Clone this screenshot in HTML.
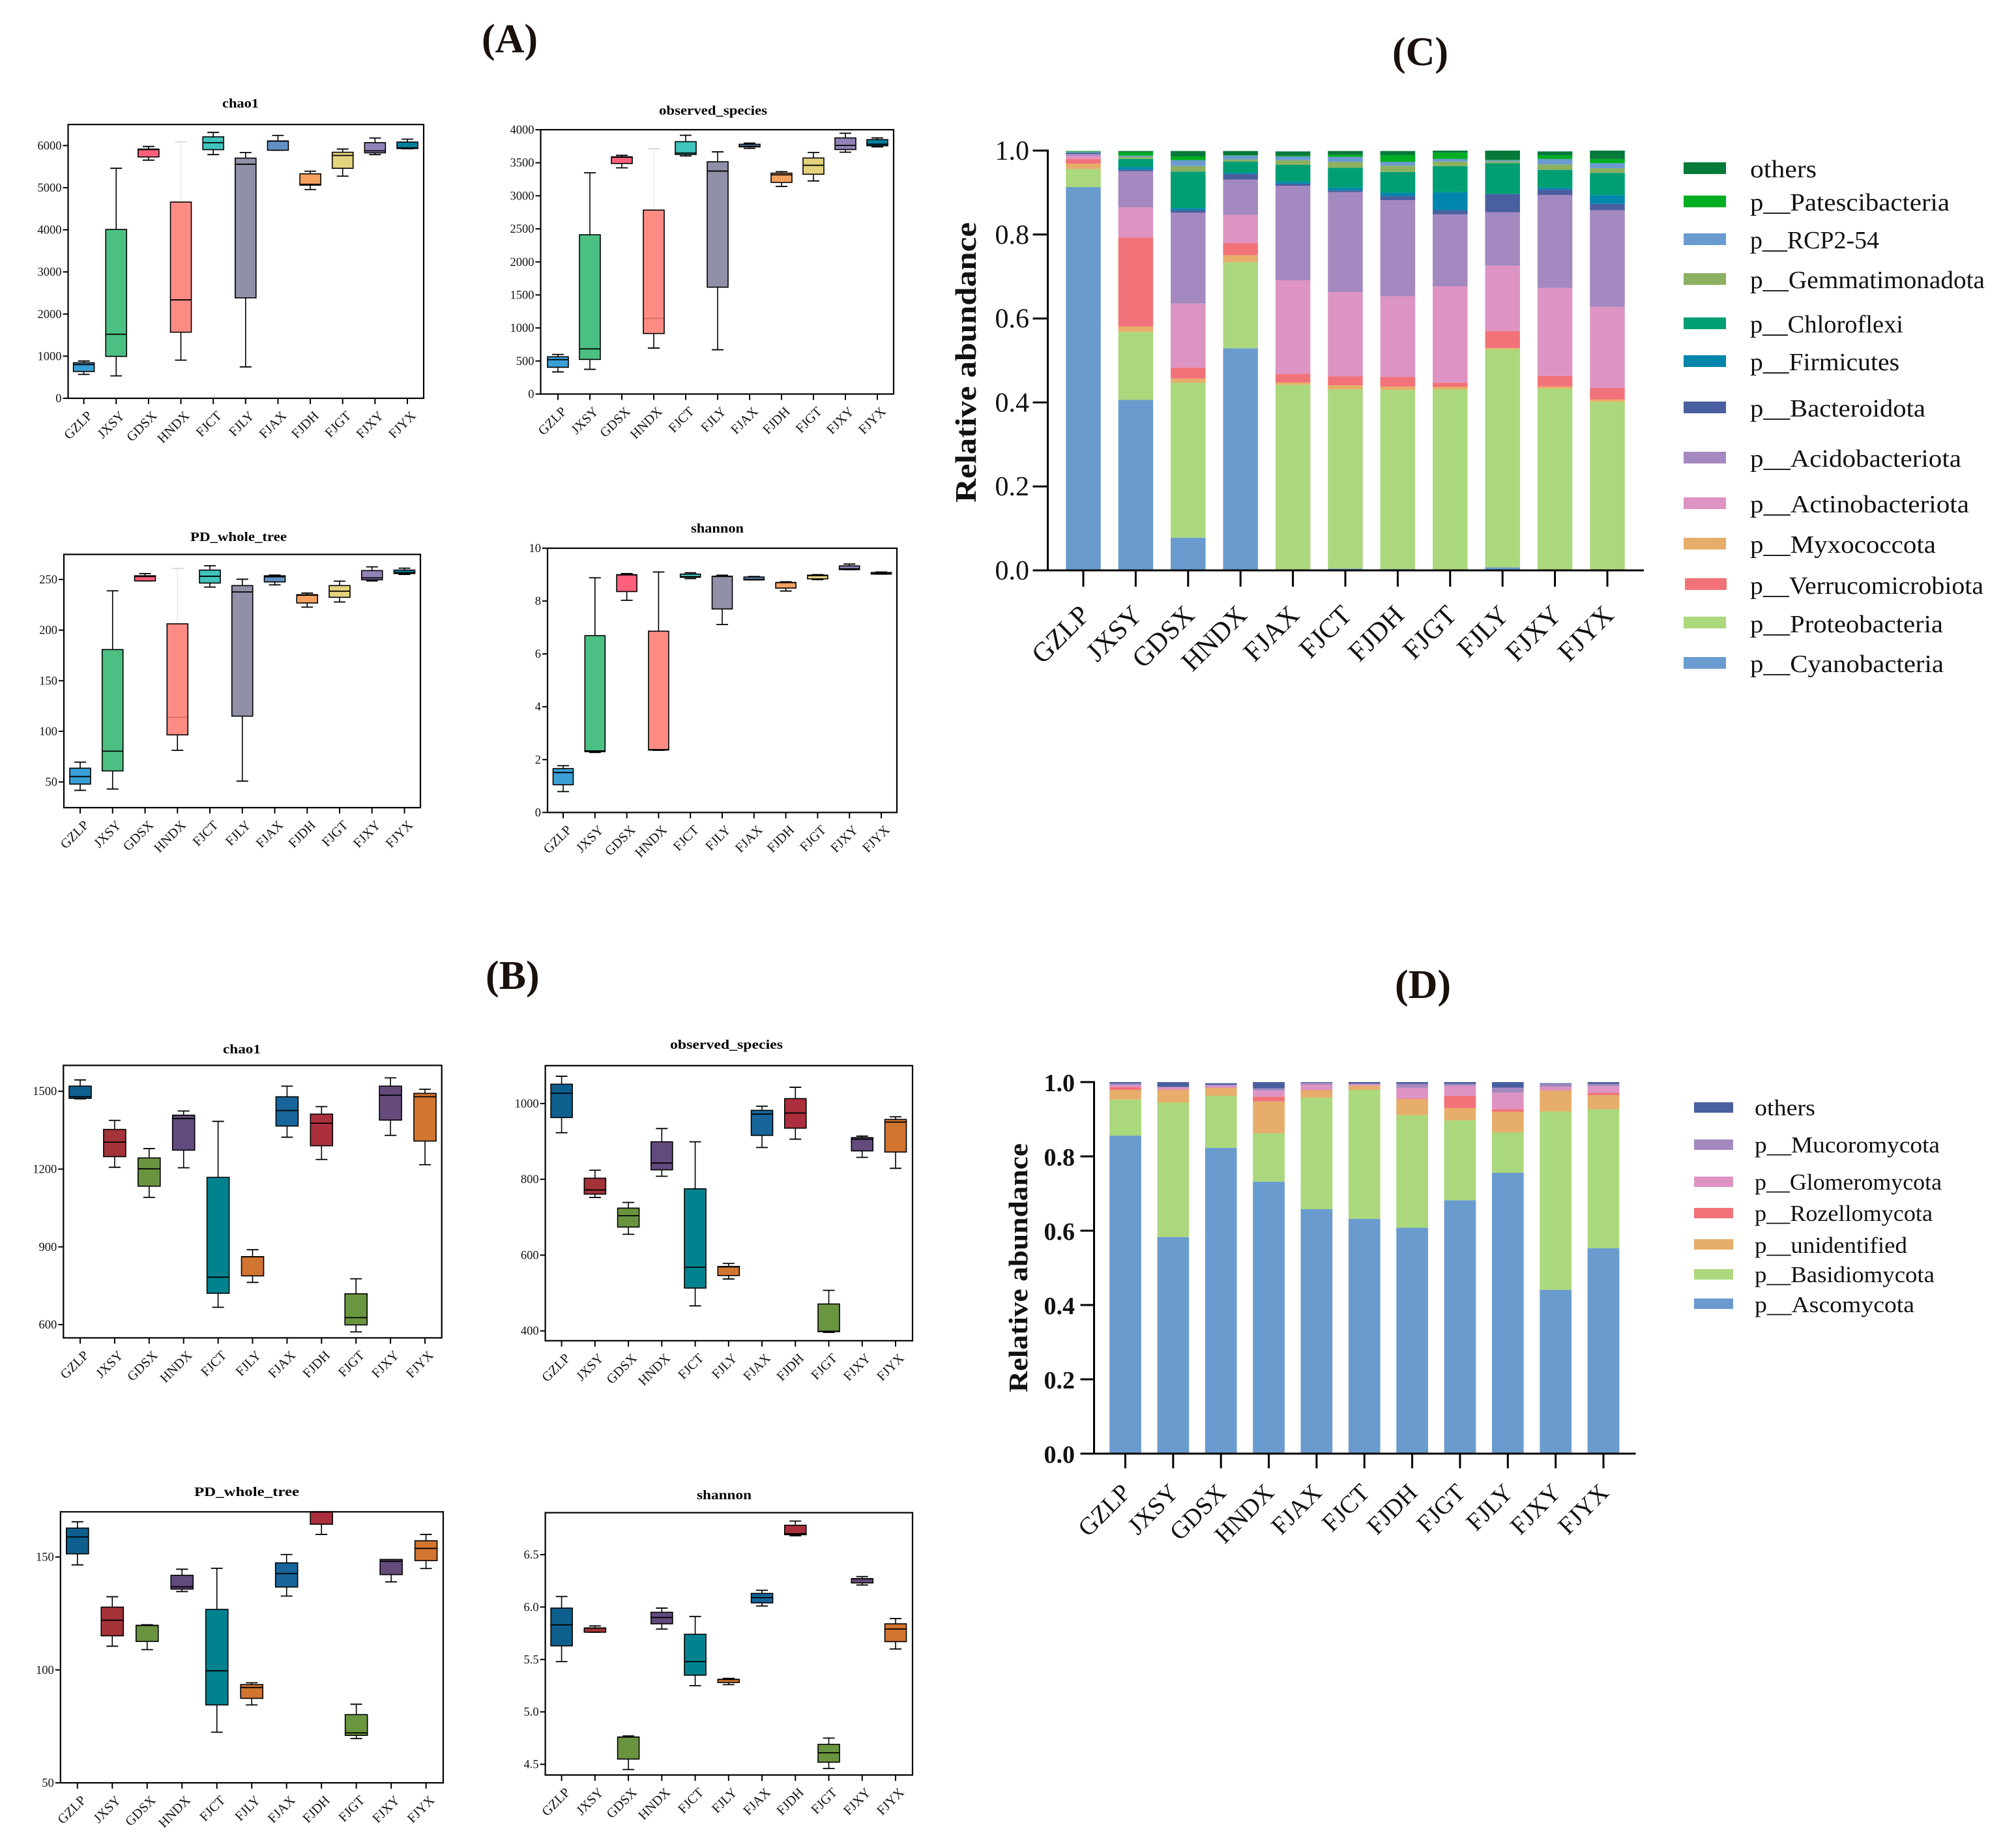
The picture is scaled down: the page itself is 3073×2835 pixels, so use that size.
<!DOCTYPE html>
<html lang="en">
<head>
<meta charset="utf-8">
<title>Alpha diversity and relative abundance</title>
<style>
html,body{margin:0;padding:0;background:#fff;}
svg{display:block;font-family:"Liberation Serif",serif;}
</style>
</head>
<body>
<svg id="root" xmlns="http://www.w3.org/2000/svg" width="3073" height="2835" viewBox="0 0 3073 2835">
  <rect x="0" y="0" width="3073" height="2835" fill="#ffffff"/>

  <g font-weight="bold" font-size="62" fill="#1a100c">
    <text x="739" y="80">(A)</text>
    <text x="745" y="1517">(B)</text>
    <text x="2136" y="100">(C)</text>
    <text x="2140" y="1531">(D)</text>
  </g>

  <g font-weight="bold" font-size="20" fill="#000">
    <text x="341" y="165" textLength="56" lengthAdjust="spacingAndGlyphs">chao1</text>
    <text x="1011" y="176" textLength="166" lengthAdjust="spacingAndGlyphs">observed_species</text>
    <text x="292" y="830" textLength="148" lengthAdjust="spacingAndGlyphs">PD_whole_tree</text>
    <text x="1060" y="817" textLength="81" lengthAdjust="spacingAndGlyphs">shannon</text>
    <text x="342" y="1616" textLength="58" lengthAdjust="spacingAndGlyphs">chao1</text>
    <text x="1028" y="1609" textLength="173" lengthAdjust="spacingAndGlyphs">observed_species</text>
    <text x="298" y="2295" textLength="161" lengthAdjust="spacingAndGlyphs">PD_whole_tree</text>
    <text x="1069" y="2300" textLength="84" lengthAdjust="spacingAndGlyphs">shannon</text>
  </g>

  <text transform="translate(1497,556) rotate(-90)" text-anchor="middle" font-weight="bold" font-size="46" textLength="430" lengthAdjust="spacingAndGlyphs" fill="#111">Relative abundance</text>
  <text transform="translate(1576,1945) rotate(-90)" text-anchor="middle" font-weight="bold" font-size="41" textLength="382" lengthAdjust="spacingAndGlyphs" fill="#111">Relative abundance</text>

  <g font-size="38" fill="#111">
    <g><rect x="2583" y="249" width="65" height="18" fill="#067a3a"/><text x="2685" y="272" textLength="102" lengthAdjust="spacingAndGlyphs">others</text></g>
    <g><rect x="2583" y="300" width="65" height="18" fill="#00ae22"/><text x="2685" y="323" textLength="306" lengthAdjust="spacingAndGlyphs">p__Patescibacteria</text></g>
    <g><rect x="2583" y="358" width="65" height="18" fill="#6a9bd0"/><text x="2685" y="381" textLength="198" lengthAdjust="spacingAndGlyphs">p__RCP2-54</text></g>
    <g><rect x="2583" y="419" width="65" height="18" fill="#8bb060"/><text x="2685" y="442" textLength="360" lengthAdjust="spacingAndGlyphs">p__Gemmatimonadota</text></g>
    <g><rect x="2583" y="487" width="65" height="18" fill="#009e73"/><text x="2685" y="510" textLength="235" lengthAdjust="spacingAndGlyphs">p__Chloroflexi</text></g>
    <g><rect x="2583" y="545" width="65" height="18" fill="#0086ad"/><text x="2685" y="568" textLength="229" lengthAdjust="spacingAndGlyphs">p__Firmicutes</text></g>
    <g><rect x="2583" y="616" width="65" height="18" fill="#4a5f9f"/><text x="2685" y="639" textLength="269" lengthAdjust="spacingAndGlyphs">p__Bacteroidota</text></g>
    <g><rect x="2583" y="693" width="65" height="18" fill="#a488c0"/><text x="2685" y="716" textLength="324" lengthAdjust="spacingAndGlyphs">p__Acidobacteriota</text></g>
    <g><rect x="2583" y="763" width="65" height="18" fill="#dd94c3"/><text x="2685" y="786" textLength="336" lengthAdjust="spacingAndGlyphs">p__Actinobacteriota</text></g>
    <g><rect x="2583" y="825" width="65" height="18" fill="#e6ae6a"/><text x="2685" y="848" textLength="285" lengthAdjust="spacingAndGlyphs">p__Myxococcota</text></g>
    <g><rect x="2585" y="887" width="64" height="18" fill="#f27279"/><text x="2685" y="911" textLength="358" lengthAdjust="spacingAndGlyphs">p__Verrucomicrobiota</text></g>
    <g><rect x="2583" y="946" width="65" height="18" fill="#abd87c"/><text x="2685" y="970" textLength="296" lengthAdjust="spacingAndGlyphs">p__Proteobacteria</text></g>
    <g><rect x="2583" y="1008" width="65" height="18" fill="#6a9bce"/><text x="2685" y="1031" textLength="297" lengthAdjust="spacingAndGlyphs">p__Cyanobacteria</text></g>
  </g>

  <g font-size="35" fill="#111">
    <g><rect x="2599" y="1691" width="60" height="16" fill="#4a5f9f"/><text x="2692" y="1711" textLength="93" lengthAdjust="spacingAndGlyphs">others</text></g>
    <g><rect x="2599" y="1748" width="60" height="16" fill="#a488c0"/><text x="2692" y="1768" textLength="284" lengthAdjust="spacingAndGlyphs">p__Mucoromycota</text></g>
    <g><rect x="2599" y="1805" width="60" height="16" fill="#dd94c3"/><text x="2692" y="1825" textLength="287" lengthAdjust="spacingAndGlyphs">p__Glomeromycota</text></g>
    <g><rect x="2599" y="1853" width="60" height="16" fill="#f27279"/><text x="2692" y="1873" textLength="273" lengthAdjust="spacingAndGlyphs">p__Rozellomycota</text></g>
    <g><rect x="2599" y="1901" width="60" height="16" fill="#e6ae6a"/><text x="2692" y="1922" textLength="234" lengthAdjust="spacingAndGlyphs">p__unidentified</text></g>
    <g><rect x="2599" y="1947" width="60" height="16" fill="#abd87c"/><text x="2692" y="1967" textLength="276" lengthAdjust="spacingAndGlyphs">p__Basidiomycota</text></g>
    <g><rect x="2599" y="1992" width="60" height="16" fill="#6a9bce"/><text x="2692" y="2013" textLength="245" lengthAdjust="spacingAndGlyphs">p__Ascomycota</text></g>
  </g>
</svg>

<script>
// ---------- categories ----------
const boxCategories = ['GZLP','JXSY','GDSX','HNDX','FJCT','FJLY','FJAX','FJDH','FJGT','FJXY','FJYX'];
const stackCategories = ['GZLP','JXSY','GDSX','HNDX','FJAX','FJCT','FJDH','FJGT','FJLY','FJXY','FJYX'];

// ---------- box plot values: [low whisker, q1, median, q3, high whisker] ----------
const aChao1Ticks = [0,1000,2000,3000,4000,5000,6000];
const aChao1 = [[567,636,800,843,885],[532,995,1520,4009,5460],[5654,5730,5905,5917,5979],[905,1569,2336,4659,6090],[5785,5903,6069,6207,6311],[746,2385,5557,5702,5834],[5889,5889,6105,6110,6241],[4956,5060,5080,5329,5391],[5274,5460,5765,5841,5917],[5785,5827,5875,6069,6179],[5924,5930,5944,6083,6152]];

const aObservedTicks = [0,500,1000,1500,2000,2500,3000,3500,4000];
const aObserved = [[335,405,520,564,599],[374,524,683,2410,3348],[3423,3489,3585,3590,3612],[696,916,1145,2784,3713],[3603,3625,3647,3819,3916],[670,1617,3374,3515,3665],[3718,3740,3749,3780,3797],[3141,3203,3317,3343,3365],[3225,3326,3462,3572,3656],[3660,3700,3762,3876,3947],[3740,3757,3780,3850,3876]];

const aPdTicks = [50,100,150,200,250];
const aPd = [[41.7,47.9,55.3,63.6,69.5],[43,60.9,80.4,180.8,238.8],[248.6,248.6,252.9,253.7,255.9],[81.2,96.5,113.8,206.2,261],[242.5,246.5,253.2,259.3,263.6],[50.8,115,237.7,244,250.3],[244.7,247.6,252.7,253.7,254.3],[222.7,226.8,234.5,235,236.6],[227.8,232.4,238.5,244,248.4],[248.6,249.7,251.6,258.8,262.5],[255,255.9,256.7,259.3,261.2]];

const aShannonTicks = [0,2,4,6,8,10];
const aShannon = [[0.79,1.05,1.51,1.66,1.77],[2.27,2.3,2.33,6.69,8.88],[8.03,8.36,8.99,9.0,9.04],[2.35,2.36,2.38,6.86,9.1],[8.85,8.9,8.92,9.02,9.07],[7.11,7.7,8.93,8.94,8.98],[8.8,8.8,8.82,8.91,8.93],[8.38,8.49,8.7,8.7,8.73],[8.81,8.84,8.96,8.98,9.0],[9.19,9.19,9.22,9.33,9.4],[9.02,9.02,9.05,9.08,9.1]];

const bChao1Ticks = [600,900,1200,1500];
const bChao1 = [[1471,1473,1479,1520,1544],[1207,1248,1304,1353,1388],[1091,1134,1201,1243,1279],[1205,1273,1395,1408,1424],[667,721,783,1168,1384],[763,788,862,862,889],[1323,1366,1426,1479,1520],[1237,1290,1377,1412,1441],[572,599,627,719,777],[1330,1389,1485,1520,1552],[1217,1308,1479,1492,1508]];

const bObservedTicks = [400,600,800,1000];
const bObserved = [[923,963,1027,1051,1072],[752,761,772,803,824],[655,674,704,724,739],[808,825,843,899,934],[466,513,568,775,899],[537,546,569,570,578],[884,916,972,982,993],[906,935,975,1013,1043],[396,398,399,471,507],[858,875,906,910,914],[829,872,951,958,965]];

const bPdTicks = [50,100,150];
const bPd = [[146.5,151.4,158.9,162.8,165.6],[110.5,115.1,122,127.8,132.4],[109,112.6,119.7,119.7,120],[134.7,135.8,136.8,141.9,144.6],[72.4,84.5,99.6,126.8,145],[84.5,87.4,92.2,93.5,94.3],[132.7,136.7,142.7,147.4,151.1],[160,164.5,170,170,170],[69.6,71,72.1,80.2,84.8],[139,142.2,148.1,148.9,148.9],[144.9,148.4,153.8,157.2,160]];

const bShannonTicks = ['4.5','5.0','5.5','6.0','6.5'];
const bShannon = [[5.48,5.63,5.83,5.99,6.10],[5.76,5.76,5.80,5.80,5.82],[4.45,4.55,4.76,4.76,4.77],[5.79,5.84,5.90,5.95,5.99],[5.25,5.35,5.48,5.74,5.91],[5.26,5.28,5.31,5.31,5.32],[6.01,6.04,6.09,6.13,6.16],[6.68,6.69,6.70,6.78,6.82],[4.46,4.52,4.61,4.69,4.75],[6.21,6.23,6.27,6.27,6.29],[5.60,5.67,5.79,5.84,5.89]];

// ---------- panel C stacked values (percent, bottom to top) ----------
const cCyanobacteria = [91.3,40.6,7.8,52.9,0.1,0.4,0.3,0.1,0.7,0.1,0.1];
const cProteobacteria = [4.3,16.2,36.9,20.5,44.1,42.7,42.7,43.0,52.0,43.2,40.0];
const cMyxococcota = [1.3,1.3,1.0,1.7,0.6,1.0,0.8,0.6,0.3,0.5,0.6];
const cVerrucomicrobiota = [1.1,21.2,2.6,2.9,2.0,2.1,2.3,1.0,4.0,2.5,2.7];
const cActinobacteriota = [0.75,7.2,15.3,6.7,22.3,20.1,19.2,23.0,15.6,21.0,19.4];
const cAcidobacteriota = [0.45,8.6,21.6,8.4,22.5,23.8,22.9,17.1,12.7,22.1,23.0];
const cBacteroidota = [0.25,0.3,0.6,1.3,0.5,0.4,1.0,1.0,4.3,1.3,1.5];
const cFirmicutes = [0,0.7,0.5,0.3,0.5,0.7,0.8,4.3,0.1,0.5,2.1];
const cChloroflexi = [0.1,1.9,8.7,2.7,4.0,4.7,4.9,6.2,7.3,4.2,5.3];
const cGemmatimonadota = [0.05,0.5,1.3,0.5,1.1,1.4,1.5,1.1,0.4,1.3,1.1];
const cRcp254 = [0.1,0.3,1.4,0.9,0.9,1.2,0.9,0.6,0.3,1.3,1.2];
const cPatescibacteria = [0.1,0.8,0.9,0.1,0.2,0.5,1.6,1.5,0.1,0.9,1.0];
const cOthers = [0.1,0.3,1.3,1.0,1.0,0.9,1.0,0.5,2.2,0.9,2.0];

// ---------- panel D stacked values (percent, bottom to top) ----------
const dAscomycota = [85.6,58.3,82.3,73.2,65.8,63.2,60.8,68.2,75.6,44.1,55.3];
const dBasidiomycota = [9.7,36.2,14.0,13.0,30.0,34.7,30.3,21.5,10.9,48.0,37.4];
const dUnidentified = [2.6,3.4,2.1,8.6,2.0,1.1,4.3,3.3,5.5,5.6,3.8];
const dRozellomycota = [0.7,0.1,0.1,1.3,0.1,0.1,0.2,3.3,0.7,0.1,0.6];
const dGlomeromycota = [0.6,0.6,0.5,1.6,1.4,0.3,2.9,2.7,4.5,0.9,1.8];
const dMucoromycota = [0.4,0.1,0.3,0.6,0.5,0.15,1.0,0.5,1.3,0.8,0.6];
const dOthers = [0.4,1.3,0.4,1.7,0.2,0.45,0.5,0.5,1.5,0.2,0.5];

const stackTickLabels = ['0.0','0.2','0.4','0.6','0.8','1.0'];

// ---------- layout & style ----------
const paletteA = ['#3a9fd5','#4cbf82','#ff5f7a','#ff8c84','#40c4bc','#9090a8','#6390c4','#f6a05f','#e3d37f','#9282b8','#00809c'];
const paletteB = ['#0e5f8e','#a33338','#6a9340','#634a7e','#00838f','#d17530','#17659a','#ab2f3c','#6a9640','#654a7c','#d17530'];

const boxPanels = [
  {id:'a-chao1', rows:aChao1, ticks:aChao1Ticks, colors:paletteA, L:104.5,R:650,T:191,B:611, min:0,max:6500, x0:128.6,x1:625, bw:32, faint:3, faintMedian:-1},
  {id:'a-observed', rows:aObserved, ticks:aObservedTicks, colors:paletteA, L:829.5,R:1371,T:199,B:604.5, min:0,max:4000, x0:856,x1:1346, bw:32, faint:3, faintMedian:3},
  {id:'a-pd', rows:aPd, ticks:aPdTicks, colors:paletteA, L:98,R:645,T:850.5,B:1239, min:24.6,max:274.8, x0:123,x1:620.5, bw:32, faint:3, faintMedian:3},
  {id:'a-shannon', rows:aShannon, ticks:aShannonTicks, colors:paletteA, L:840,R:1376,T:841,B:1246.4, min:0,max:10, x0:864,x1:1352, bw:31, faint:-1, faintMedian:-1},
  {id:'b-chao1', rows:bChao1, ticks:bChao1Ticks, colors:paletteB, L:97.3,R:677.7,T:1634.4,B:2052.4, min:549,max:1600, x0:123,x1:652, bw:34, faint:-1, faintMedian:-1},
  {id:'b-observed', rows:bObserved, ticks:bObservedTicks, colors:paletteB, L:836.6,R:1400,T:1634.8,B:2056.8, min:374,max:1100, x0:861.6,x1:1374, bw:33, faint:-1, faintMedian:-1},
  {id:'b-pd', rows:bPd, ticks:bPdTicks, colors:paletteB, L:92.8,R:680,T:2319.3,B:2735, min:50,max:170, x0:118.8,x1:653.6, bw:34, faint:-1, faintMedian:-1},
  {id:'b-shannon', rows:bShannon, ticks:bShannonTicks, colors:paletteB, L:836.6,R:1400,T:2320.6,B:2723, min:4.398,max:6.9, x0:861.6,x1:1374, bw:33, faint:-1, faintMedian:-1}
];

const stackPanels = [
  {id:'c', series:[cCyanobacteria,cProteobacteria,cMyxococcota,cVerrucomicrobiota,cActinobacteriota,cAcidobacteriota,cBacteroidota,cFirmicutes,cChloroflexi,cGemmatimonadota,cRcp254,cPatescibacteria,cOthers],
   colors:['#6a9bce','#abd87c','#e6ae6a','#f27279','#dd94c3','#a488c0','#4a5f9f','#0086ad','#009e73','#8bb060','#6a9bd0','#00ae22','#067a3a'],
   axisX:1607.5, axisR:2522, top:231, bottom:875, x0:1662, x1:2466, bw:53.5, tickL:23, tickB:25, labelEnd:1579, fontY:42, boldY:'normal', fontX:42, labelDX:12, labelDY:71},
  {id:'d', series:[dAscomycota,dBasidiomycota,dUnidentified,dRozellomycota,dGlomeromycota,dMucoromycota,dOthers],
   colors:['#6a9bce','#abd87c','#e6ae6a','#f27279','#dd94c3','#a488c0','#4a5f9f'],
   axisX:1678.5, axisR:2509.5, top:1660, bottom:2230, x0:1726.5, x1:2460, bw:48.7, tickL:21, tickB:22.5, labelEnd:1649, fontY:38, boldY:'bold', fontX:38, labelDX:10, labelDY:62}
];

const NS = 'http://www.w3.org/2000/svg';
const root = document.getElementById('root');

function make(tag, attrs, parent) {
  const el = document.createElementNS(NS, tag);
  for (const k in attrs) el.setAttribute(k, attrs[k]);
  parent.appendChild(el);
  return el;
}

function drawBoxPanel(p) {
  const y = v => p.B - (v - p.min) / (p.max - p.min) * (p.B - p.T);
  const x = i => p.x0 + i * (p.x1 - p.x0) / (boxCategories.length - 1);

  const g = make('g', {}, root);
  
  

  p.rows.forEach((row, i) => {
    const [low, q1, med, q3, high] = row;
    const cx = x(i), hw = p.bw / 2, capW = 9;
    const bg = make('g', {}, g);
    
    
    const upper = make('line', {x1:cx, x2:cx, y1:y(q3), y2:y(high), stroke:'#000', 'stroke-width':1.6, 'stroke-opacity': i === p.faint ? 0.08 : 1}, bg);
    
    
    const lower = make('line', {x1:cx, x2:cx, y1:y(q1), y2:y(low), stroke:'#000', 'stroke-width':1.6}, bg);
    
    
    const capHigh = make('line', {x1:cx-capW, x2:cx+capW, y1:y(high), y2:y(high), stroke:'#000', 'stroke-width':1.8, 'stroke-opacity': i === p.faint ? 0.15 : 1}, bg);
    
    
    const capLow = make('line', {x1:cx-capW, x2:cx+capW, y1:y(low), y2:y(low), stroke:'#000', 'stroke-width':1.8}, bg);
    
    
    const body = make('rect', {x:cx-hw, y:y(q3), width:p.bw, height:Math.max(y(q1)-y(q3),1), fill:p.colors[i], stroke:'#000', 'stroke-width':1.6}, bg);
    
    
    const median = make('line', {x1:cx-hw, x2:cx+hw, y1:y(med), y2:y(med), stroke:'#000', 'stroke-width':1.8, 'stroke-opacity': i === p.faintMedian ? 0.2 : 1}, bg);
    
    
  });

  const frame = make('rect', {x:p.L, y:p.T, width:p.R-p.L, height:p.B-p.T, fill:'none', stroke:'#000', 'stroke-width':2.2}, g);
  
  

  p.ticks.forEach(t => {
    const ty = y(parseFloat(t));
    const tick = make('line', {x1:p.L-8, x2:p.L, y1:ty, y2:ty, stroke:'#000', 'stroke-width':2}, g);
    
    
    const lab = make('text', {x:p.L-10, y:ty+6, 'text-anchor':'end', 'font-size':18.5, fill:'#111'}, g);
    lab.textContent = t;
    
    
  });

  boxCategories.forEach((c, i) => {
    const tx = x(i);
    const tick = make('line', {x1:tx, x2:tx, y1:p.B, y2:p.B+9, stroke:'#000', 'stroke-width':2}, g);
    
    
    const lab = make('text', {transform:`translate(${tx+14},${p.B+28}) rotate(-45)`, 'text-anchor':'end', 'font-size':20.5, fill:'#111'}, g);
    lab.textContent = c;
    
    
  });
}

function drawStackPanel(p) {
  const y = f => p.bottom - f * (p.bottom - p.top);
  const x = i => p.x0 + i * (p.x1 - p.x0) / (stackCategories.length - 1);

  const g = make('g', {}, root);
  
  

  stackCategories.forEach((c, i) => {
    let cum = 0;
    p.series.forEach((values, s) => {
      const v = values[i];
      const seg = make('rect', {x:x(i)-p.bw/2, y:y((cum+v)/100), width:p.bw, height:y(cum/100)-y((cum+v)/100), fill:p.colors[s]}, g);
      
      
      cum += v;
    });
    const tick = make('line', {x1:x(i), x2:x(i), y1:p.bottom, y2:p.bottom+p.tickB, stroke:'#000', 'stroke-width':3}, g);
    
    
    const lab = make('text', {transform:`translate(${x(i)+p.labelDX},${p.bottom+p.labelDY}) rotate(-45)`, 'text-anchor':'end', 'font-size':p.fontX, fill:'#111'}, g);
    lab.textContent = c;
    
    
  });

  const yAxis = make('line', {x1:p.axisX, x2:p.axisX, y1:p.top-1.5, y2:p.bottom+1.5, stroke:'#000', 'stroke-width':3}, g);
  
  
  const xAxis = make('line', {x1:p.axisX-p.tickL, x2:p.axisR, y1:p.bottom, y2:p.bottom, stroke:'#000', 'stroke-width':3}, g);
  
  

  stackTickLabels.forEach(t => {
    const ty = y(parseFloat(t));
    const tick = make('line', {x1:p.axisX-p.tickL, x2:p.axisX, y1:ty, y2:ty, stroke:'#000', 'stroke-width':3}, g);
    
    
    const lab = make('text', {x:p.labelEnd, y:ty+14, 'text-anchor':'end', 'font-size':p.fontY, 'font-weight':p.boldY, fill:'#111'}, g);
    lab.textContent = t;
    
    
  });
}

boxPanels.forEach(drawBoxPanel);
stackPanels.forEach(drawStackPanel);
</script>
</body>
</html>
